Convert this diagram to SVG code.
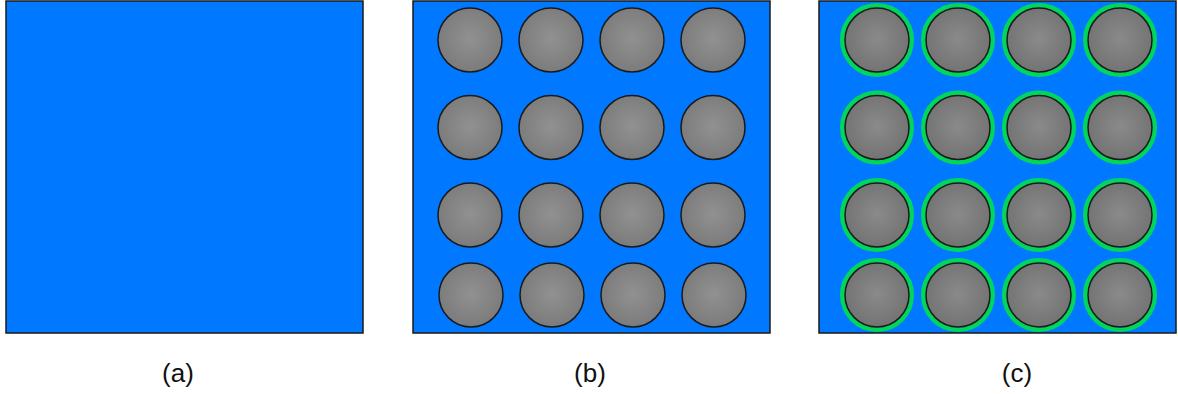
<svg xmlns="http://www.w3.org/2000/svg" width="1178" height="394" viewBox="0 0 1178 394">
<defs>
<radialGradient id="gb" cx="50%" cy="48%" r="55%">
<stop offset="0" stop-color="#919191"/>
<stop offset="1" stop-color="#7a7a7a"/>
</radialGradient>
<radialGradient id="gc" cx="50%" cy="48%" r="55%">
<stop offset="0" stop-color="#8a8a8a"/>
<stop offset="1" stop-color="#727272"/>
</radialGradient>
<style>
.panel{fill:#0078ff;stroke:#1a1a1a;stroke-width:1.5}
.pb{fill:url(#gb);stroke:#1a1a1a;stroke-width:1.5}
.ring{fill:none;stroke:#00d65c;stroke-width:5}
.pc{fill:url(#gc);stroke:#1a1a1a;stroke-width:1.5}
.lbl{font-family:"Liberation Sans",Arial,sans-serif;font-size:26px;fill:#111;text-anchor:middle}
</style>
<g id="circB"><circle class="pb" r="32"/></g>
<g id="circC"><circle class="ring" r="34.5"/><circle class="pc" r="32"/></g>
</defs>
<g id="panel-a">
<rect class="panel" x="6" y="1" width="357" height="332"/>
<text class="lbl" x="178" y="382">(a)</text>
</g>
<g id="panel-b">
<rect class="panel" x="413" y="1" width="357" height="332"/>
<use href="#circB" x="470" y="40"/><use href="#circB" x="551" y="40"/><use href="#circB" x="632" y="40"/><use href="#circB" x="713" y="40"/>
<use href="#circB" x="470" y="127.5"/><use href="#circB" x="551" y="127.5"/><use href="#circB" x="632" y="127.5"/><use href="#circB" x="713" y="127.5"/>
<use href="#circB" x="470" y="215"/><use href="#circB" x="551" y="215"/><use href="#circB" x="632" y="215"/><use href="#circB" x="713" y="215"/>
<use href="#circB" x="471" y="295"/><use href="#circB" x="552" y="295"/><use href="#circB" x="633" y="295"/><use href="#circB" x="714" y="295"/>
<text class="lbl" x="590" y="382">(b)</text>
</g>
<g id="panel-c">
<rect class="panel" x="819" y="1" width="357" height="332"/>
<use href="#circC" x="877" y="40"/><use href="#circC" x="958" y="40"/><use href="#circC" x="1039" y="40"/><use href="#circC" x="1120" y="40"/>
<use href="#circC" x="877" y="127.5"/><use href="#circC" x="958" y="127.5"/><use href="#circC" x="1039" y="127.5"/><use href="#circC" x="1120" y="127.5"/>
<use href="#circC" x="877" y="215"/><use href="#circC" x="958" y="215"/><use href="#circC" x="1039" y="215"/><use href="#circC" x="1120" y="215"/>
<use href="#circC" x="877" y="295"/><use href="#circC" x="958" y="295"/><use href="#circC" x="1039" y="295"/><use href="#circC" x="1120" y="295"/>
<text class="lbl" x="1017" y="382">(c)</text>
</g>
<g id="connectors"/>
</svg>
